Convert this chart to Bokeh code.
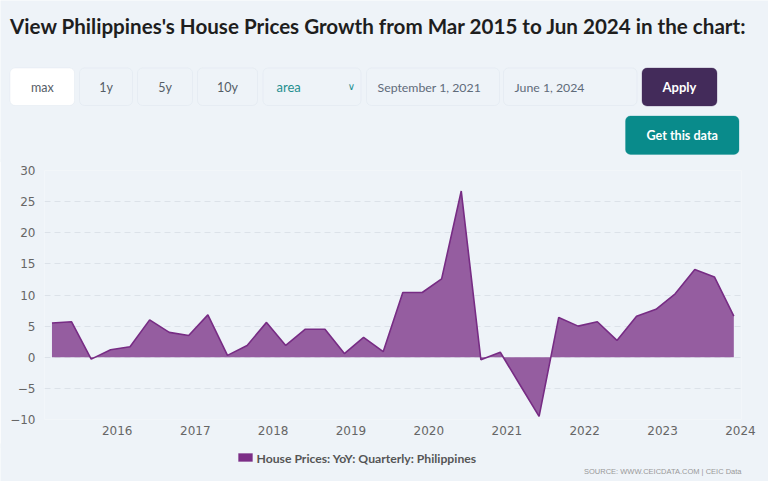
from datetime import datetime
from bokeh.plotting import figure
from bokeh.models import (ColumnDataSource, Label, BoxAnnotation,
                          FixedTicker, DatetimeTickFormatter, Range1d)
from bokeh.embed import file_html
from bokeh.resources import INLINE

# ---------------- data ----------------
dates = ["2015-03-01", "2015-06-01", "2015-09-01", "2015-12-01",
         "2016-03-01", "2016-06-01", "2016-09-01", "2016-12-01",
         "2017-03-01", "2017-06-01", "2017-09-01", "2017-12-01",
         "2018-03-01", "2018-06-01", "2018-09-01", "2018-12-01",
         "2019-03-01", "2019-06-01", "2019-09-01", "2019-12-01",
         "2020-03-01", "2020-06-01", "2020-09-01", "2020-12-01",
         "2021-03-01", "2021-06-01", "2021-09-01", "2021-12-01",
         "2022-03-01", "2022-06-01", "2022-09-01", "2022-12-01",
         "2023-03-01", "2023-06-01", "2023-09-01", "2023-12-01"]
values = [5.5, 5.7, -0.3, 1.2,
          1.7, 6.0, 4.0, 3.5,
          6.8, 0.3, 1.9, 5.6,
          1.9, 4.5, 4.5, 0.6,
          3.2, 0.9, 10.4, 10.4,
          12.6, 26.7, -0.4, 0.8,
          -4.3, -9.5, 6.4, 5.0,
          5.7, 2.7, 6.6, 7.7,
          10.2, 14.1, 12.9, 6.6]
year_ticks = [2016, 2017, 2018, 2019, 2020, 2021, 2022, 2023, 2024]
y_ticks = [-10, -5, 0, 5, 10, 15, 20, 25, 30]
y_tick_labels = ["\u221210", "\u22125", "0", "5", "10", "15", "20", "25", "30"]
series_name = "House Prices: YoY: Quarterly: Philippines"
title_text = "View Philippines's House Prices Growth from Mar 2015 to Jun 2024 in the chart:"
buttons = ["max", "1y", "5y", "10y"]
chart_type = "area"
date_from = "September 1, 2021"
date_to = "June 1, 2024"
source_text = "SOURCE: WWW.CEICDATA.COM | CEIC Data"

# ---------------- layout constants (page pixels) ----------------
W = 768
HEAD_H = 162          # header: page y 0..162 (drawn over the chart's top edge)
CHART_TOP, CHART_H = 158, 290   # chart: page y 158..448
FOOT_TOP, FOOT_H = 443, 38      # footer: page y 443..481
F_LEFT, F_RIGHT, F_TOP, F_BOTTOM = 44, 741, 170, 419
BG = "#eef3f8"


def blank(height, top):
    f = figure(width=W, height=height, output_backend="svg", toolbar_location=None,
               x_range=Range1d(0, W), y_range=Range1d(0, height),
               x_axis_location=None, y_axis_location=None,
               min_border=0, outline_line_color=None)
    f.background_fill_color = BG
    f.border_fill_color = BG
    f.grid.visible = False
    f.styles = {"position": "absolute", "left": "0px", "top": f"{top}px"}
    return f


# ---------------- header ----------------
head = blank(HEAD_H, 0)


def hy(Y):
    return HEAD_H - Y


def box(fig, conv, x0, y0, x1, y1, fill, line, radius=5):
    fig.add_layout(BoxAnnotation(left=x0, right=x1, top=conv(y0), bottom=conv(y1),
                                 fill_color=fill, fill_alpha=1.0,
                                 line_color=line, line_width=1, border_radius=radius))


def text(x, y, t, color, size="13px", align="center", style="normal", font="Lato"):
    head.add_layout(Label(x=x, y=hy(y), text=t,
                          text_font=font, text_font_size=size, text_color=color,
                          text_align=align, text_baseline="middle", text_font_style=style))


head.add_layout(Label(x=9.5, y=hy(25.5), text=title_text, text_font="Lato",
                      text_font_size="20.6px", text_color="#1e1e1e",
                      text_baseline="alphabetic", text_font_style="bold"))

BTN_T, BTN_B = 67.5, 105
btn_x = [(9.5, 74), (79, 132), (137, 192), (197, 257)]
for i, (lab, (a, b)) in enumerate(zip(buttons, btn_x)):
    box(head, hy, a, BTN_T, b, BTN_B, "#ffffff" if i == 0 else BG, "#d3dfe8")
    text((a + b) / 2, 86.5, lab, "#555d66", "12.5px")

box(head, hy, 262.5, BTN_T, 360.5, BTN_B, BG, "#d3dfe8")
text(276, 86.5, chart_type, "#1f8f8f", "13px", align="left")
text(351, 85.5, "\u2228", "#1f8f8f", "10px", font="DejaVu Sans")

box(head, hy, 366, BTN_T, 499, BTN_B, BG, "#d3dfe8")
text(377, 86.5, date_from, "#5f6b7a", "12.3px", align="left")
box(head, hy, 503, BTN_T, 636.5, BTN_B, BG, "#d3dfe8")
text(514, 86.5, date_to, "#5f6b7a", "12.3px", align="left")

box(head, hy, 641.5, BTN_T, 716.5, 105.5, "#432b5a", "#432b5a")
text(679, 86.5, "Apply", "#ffffff", "13px", style="bold")

box(head, hy, 625, 115.5, 738.5, 154, "#098b8b", "#098b8b")
text(681.7, 135, "Get this data", "#ffffff", "12.6px", style="bold")

# ---------------- chart ----------------
xs = [datetime.strptime(d, "%Y-%m-%d") for d in dates]
src = ColumnDataSource(dict(x=xs, y=values))

p = figure(width=W, height=CHART_H, output_backend="svg", toolbar_location=None,
           x_axis_type="datetime",
           x_range=Range1d(datetime(2015, 1, 25), datetime(2024, 1, 6)),
           y_range=Range1d(-10, 30),
           min_border_left=F_LEFT, min_border_right=W - F_RIGHT,
           min_border_top=F_TOP - CHART_TOP,
           min_border_bottom=CHART_TOP + CHART_H - F_BOTTOM)
p.styles = {"position": "absolute", "left": "0px", "top": f"{CHART_TOP}px"}
p.background_fill_color = BG
p.border_fill_color = BG
p.outline_line_color = None

p.varea(x="x", y1=0, y2="y", source=src, fill_color="#955da0", fill_alpha=1.0)
p.line(x="x", y="y", source=src, line_color="#772c84", line_width=1.6)

p.xaxis.ticker = FixedTicker(ticks=[datetime(yr, 1, 1).timestamp() * 1000 for yr in year_ticks])
p.xaxis.formatter = DatetimeTickFormatter(years="%Y", months="%Y", days="%Y")
p.yaxis.ticker = FixedTicker(ticks=y_ticks)
p.yaxis.major_label_overrides = {t: l for t, l in zip(y_ticks, y_tick_labels)}
for ax in (p.xaxis, p.yaxis):
    ax.axis_line_color = None
    ax.major_tick_line_color = None
    ax.major_tick_out = 0
    ax.major_tick_in = 0
    ax.minor_tick_line_color = None
    ax.major_label_text_font = "DejaVu Sans"
    ax.major_label_text_font_size = "12px"
    ax.major_label_text_color = "#666666"
p.yaxis.major_label_standoff = 9
p.xaxis.major_label_standoff = 6
p.xgrid.grid_line_color = None
p.ygrid.grid_line_color = "#dce2e9"
p.ygrid.grid_line_dash = "6 4"

# ---------------- footer ----------------
foot = blank(FOOT_H, FOOT_TOP)


def fy(Y):
    return FOOT_TOP + FOOT_H - Y


# legend (swatch + label)
box(foot, fy, 238, 453, 252, 461, "#7b2d86", "#7b2d86", radius=0)
foot.add_layout(Label(x=256, y=fy(457.5), text=series_name, text_font="Lato",
                      text_font_size="12.2px", text_color="#555555",
                      text_font_style="bold", text_baseline="middle"))
foot.add_layout(Label(x=741, y=fy(471), text=source_text, text_font="Liberation Sans",
                      text_font_size="7.5px", text_color="#999999",
                      text_align="right", text_baseline="middle"))

open("out.html", "w").write(file_html([p, head, foot], INLINE))
